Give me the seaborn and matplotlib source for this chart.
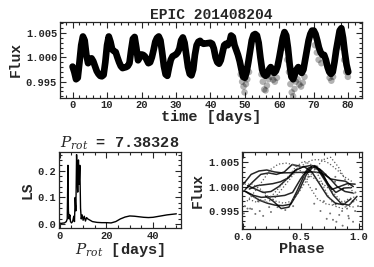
import numpy as np
import pandas as pd
import matplotlib
matplotlib.use("Agg")
import matplotlib.pyplot as plt
from matplotlib.ticker import MultipleLocator, FormatStrFormatter
import seaborn as sns

# ------------------------------
# Data
# ------------------------------
star_id = "EPIC 201408204"
prot = 7.38328
epoch = -1.43

# light curve, sampled every 0.5 day (NaN = data gap)
time_days = np.arange(0, 80.5, 0.5)
flux_ppt = [
    -1.9, -3.0, -4.5, -4.2, -1.0, 2.5, 4.3, 3.5, 0.5, -1.2,
    -0.3, -0.2, -0.8, -1.8, -2.8, -3.4, -3.8, -3.9, -3.6, -1.0,
    2.5, 4.3, 3.2, 1.6, 1.3, 1.1, 0.0, -1.0, -1.8, -2.2,
    -2.1, -2.0, -1.8, -1.2, 1.5, 3.8, 4.2, 2.0, -0.6, 0.0,
    0.6, 0.5, 0.2, -0.5, -1.2, -1.0, 0.0, 1.5, 3.2, 4.0,
    4.3, 3.5, 1.0, -1.8, -3.5, -3.8, -2.0, -0.5, 0.2, 0.4,
    0.6, 1.0, 1.8, 3.5, 4.1, 3.0, 0.5, -2.0, -3.4, -3.7,
    -2.5, 0.5, 2.5, 3.2, 3.4, 3.0, 2.8, np.nan, np.nan, np.nan,
    3.0, 2.8, 1.8, 0.0, -1.0, -1.3, -0.6, 1.0, 2.5, 2.8,
    2.5, 3.0, 4.5, 4.2, 2.5, 1.5, 0.5, -0.8, -2.5, -4.0,
    -4.2, -3.0, -1.0, 1.2, 3.5, 4.6, 4.8, 4.5, 3.0, 0.0,
    -2.5, -3.5, -3.8, -3.5, -2.5, -2.0, -2.6, -3.2, -2.8, -1.8,
    0.0, 2.0, 4.0, 5.2, 4.5, 2.0, -1.5, -4.0, -4.5, -3.5,
    -2.5, -2.0, -2.5, -3.2, -2.5, -0.5, 1.5, 3.5, 4.8, 5.5,
    5.5, 4.8, 3.5, 2.0, 1.0, 0.5, 0.5, -0.5, -2.0, -3.0,
    -3.4, -3.0, -1.0, 1.5, 3.5, 5.5, 6.0, 4.0, 1.0, -1.5,
    -3.0,
]

# scattered (noisy) points in the second half of the campaign
noise_time = [48.8, 49.2, 49.6, 49.9, 50.3, 50.7, 51.2,
              54.8, 55.2, 55.6, 56.0, 56.4, 56.9,
              57.6, 58.2, 58.7, 59.3,
              61.8, 62.3, 62.8, 63.2, 63.6, 64.0, 64.4, 64.8,
              65.3, 65.8, 66.3, 66.8, 67.3,
              70.3, 70.9, 71.4, 72.2,
              74.6, 75.1, 75.6,
              78.3, 78.8, 79.4, 79.9]
noise_ppt = [-3.5, -5.0, -6.0, -7.2, -5.5, -4.5, -3.0,
             -3.5, -5.0, -6.6, -6.8, -5.8, -4.5,
             -4.0, -4.6, -5.0, -4.2,
             2.0, -0.5, -3.0, -5.5, -7.2, -8.0, -6.5, -5.0,
             -4.5, -5.6, -6.0, -5.2, -4.0,
             2.5, 1.0, -0.5, -1.2,
             -4.2, -4.8, -4.0,
             2.0, -0.5, -3.0, -4.0]

# Lomb-Scargle periodogram
ls_period = [0.5, 1.0, 2.0, 2.8, 3.2, 3.5, 3.7, 4.0, 4.3, 4.6,
             5.0, 5.5, 6.0, 6.3, 6.6, 6.9, 7.2, 7.4, 7.7, 8.0,
             8.3, 8.6, 8.9, 9.2, 9.6, 10.0, 10.5, 11.0, 11.5, 12.0,
             13.0, 14.0, 16.0, 18.0, 20.0, 22.0, 24.0, 26.0, 28.0, 30.0,
             32.0, 34.0, 36.0, 38.0, 40.0, 42.0, 44.0, 46.0, 48.0, 50.0]
ls_power = [0.003, 0.004, 0.005, 0.01, 0.02, 0.22, 0.05, 0.02, 0.035, 0.01,
            0.005, 0.01, 0.03, 0.01, 0.10, 0.05, 0.26, 0.20, 0.12, 0.24,
            0.15, 0.22, 0.06, 0.02, 0.035, 0.015, 0.03, 0.012, 0.025, 0.02,
            0.015, 0.01, 0.007, 0.006, 0.006, 0.005, 0.01, 0.02, 0.027, 0.031,
            0.03, 0.028, 0.026, 0.025, 0.026, 0.029, 0.032, 0.035, 0.037, 0.039]

# ------------------------------
# Build tables
# ------------------------------
lc = pd.DataFrame({"time": time_days, "flux": 1 + np.array(flux_ppt) / 1000})
noise = pd.DataFrame({"time": noise_time, "flux": 1 + np.array(noise_ppt) / 1000})
pgram = pd.DataFrame({"period": ls_period, "power": ls_power})

fold = lc.dropna().copy()
fold["phase"] = ((fold["time"] - epoch) / prot) % 1
fold["cycle"] = np.floor((fold["time"] - epoch) / prot).astype(int)
noise["phase"] = ((noise["time"] - epoch) / prot) % 1

# ------------------------------
# Plot
# ------------------------------
sns.set_style("ticks")
plt.rcParams["font.family"] = ["Liberation Mono", "DejaVu Sans"]
plt.rcParams["font.weight"] = "bold"
plt.rcParams["axes.titleweight"] = "bold"
plt.rcParams["axes.labelweight"] = "bold"
# keep the P_rot symbol in a plain serif italic
plt.rcParams["mathtext.fontset"] = "custom"
plt.rcParams["mathtext.it"] = "DejaVu Serif:italic:normal"
plt.rcParams["mathtext.rm"] = "DejaVu Serif:normal"

fig = plt.figure(figsize=(3.74, 2.67), dpi=100)
ax1 = fig.add_axes([0.160, 0.634, 0.808, 0.284])
ax2 = fig.add_axes([0.158, 0.146, 0.326, 0.285])
ax3 = fig.add_axes([0.647, 0.142, 0.321, 0.289])

# light curve
sns.lineplot(data=lc, x="time", y="flux", ax=ax1, color="k", lw=4.8,
             estimator=None, sort=False, solid_capstyle="round")
sns.scatterplot(data=noise, x="time", y="flux", ax=ax1, color="k", alpha=0.3,
                s=22, edgecolor="none")
ax1.set_xlim(-3.7, 84)
ax1.set_ylim(0.9917, 1.0073)
ax1.set_title(star_id, fontsize=10.5, pad=2)
ax1.set_xlabel("time [days]", fontsize=11, labelpad=0)
ax1.set_ylabel("Flux", fontsize=10.5, labelpad=2)
ax1.xaxis.set_major_locator(MultipleLocator(10))
ax1.xaxis.set_minor_locator(MultipleLocator(2))
ax1.yaxis.set_major_locator(MultipleLocator(0.005))
ax1.yaxis.set_minor_locator(MultipleLocator(0.001))
ax1.yaxis.set_major_formatter(FormatStrFormatter("%.3f"))

# periodogram
sns.lineplot(data=pgram, x="period", y="power", ax=ax2, color="k", lw=1.0,
             estimator=None, sort=False)
ax2.axvline(prot, ymax=0.45, color="w", ls="--", lw=0.8)
ax2.set_xlim(-0.3, 52)
ax2.set_ylim(-0.014, 0.27)
ax2.set_title(r"$P_{rot}$ = %.5f" % prot, fontsize=11, pad=1)
ax2.set_xlabel(r"$P_{rot}$ [days]", fontsize=11, labelpad=0)
ax2.set_ylabel("LS", fontsize=10.5, labelpad=2)
ax2.xaxis.set_major_locator(MultipleLocator(20))
ax2.xaxis.set_minor_locator(MultipleLocator(5))
ax2.yaxis.set_major_locator(MultipleLocator(0.1))
ax2.yaxis.set_minor_locator(MultipleLocator(0.02))
ax2.yaxis.set_major_formatter(FormatStrFormatter("%.1f"))

# phase-folded curve
early = fold[fold["time"] < 47]
late = fold[fold["time"] >= 47]
sns.lineplot(data=early, x="phase", y="flux", units="cycle", ax=ax3, color="k",
             lw=1.1, alpha=0.85, estimator=None, sort=False)
sns.lineplot(data=late, x="phase", y="flux", units="cycle", ax=ax3, color="0.35",
             lw=0.9, ls=":", estimator=None, sort=False)
sns.scatterplot(data=noise, x="phase", y="flux", ax=ax3, color="0.45", s=2,
                edgecolor="none")
ax3.set_xlim(-0.01, 1.03)
ax3.set_ylim(0.9913, 1.0071)
ax3.set_xlabel("Phase", fontsize=11, labelpad=0)
ax3.set_ylabel("Flux", fontsize=10.5, labelpad=2)
ax3.xaxis.set_major_locator(MultipleLocator(0.5))
ax3.xaxis.set_minor_locator(MultipleLocator(0.1))
ax3.yaxis.set_major_locator(MultipleLocator(0.005))
ax3.yaxis.set_minor_locator(MultipleLocator(0.001))
ax3.yaxis.set_major_formatter(FormatStrFormatter("%.3f"))

for ax in (ax1, ax2, ax3):
    ax.tick_params(which="both", direction="in", top=True, right=True,
                   labelsize=7.5, pad=2, width=0.8)
    ax.tick_params(which="major", length=4)
    ax.tick_params(which="minor", length=2)
    for sp in ax.spines.values():
        sp.set_linewidth(0.9)

fig.savefig("out.png", dpi=100)
